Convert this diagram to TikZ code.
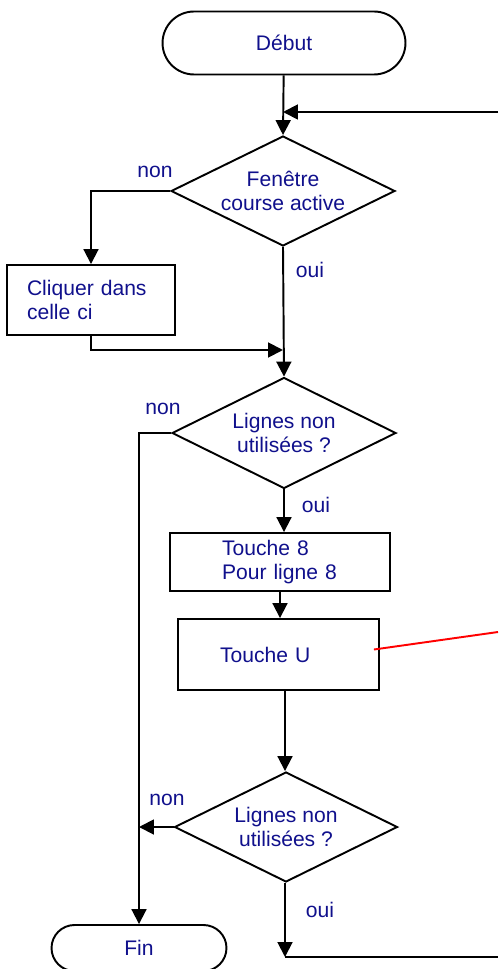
\documentclass[tikz,border=0pt]{standalone}
\usepackage{fontspec}
\setmainfont{Liberation Sans}
\usetikzlibrary{arrows.meta,shapes.geometric,shapes.misc}
\definecolor{txtblue}{RGB}{16,16,140}
\begin{document}
\begin{tikzpicture}[x=0.02cm,y=-0.02cm,
	every node/.style={font=\fontsize{12}{13.6}\selectfont,text=txtblue,inner sep=0pt},
	terminal/.style={draw,rounded rectangle,line width=1.1pt},
	decision/.style={draw,diamond,aspect=2,line width=1.1pt},
	process/.style={draw,rectangle,line width=1.1pt,align=left},
	arrow/.style={line width=1.1pt,-{Triangle[length=8.5pt,width=8.5pt]}},
	line/.style={line width=1.1pt}]
		\useasboundingbox (0,0) rectangle (498,969);
		% blocs
		\node[terminal,minimum width=4.86cm,minimum height=1.26cm] (debut) at (284,43) {D\'ebut};
		\node[decision,minimum width=4.48cm,minimum height=2.2cm,align=center] (fen) at (283,191) {Fen\^etre\\course active};
		\node[process,minimum width=3.36cm,minimum height=1.4cm,inner xsep=0.4cm,text width=2.56cm] (clic) at (91,300) {Cliquer dans\\celle ci};
		\node[decision,minimum width=4.48cm,minimum height=2.22cm,align=center] (lig1) at (284,433) {Lignes non\\utilis\'ees ?};
		\node[process,minimum width=4.4cm,minimum height=1.16cm,inner xsep=1.04cm,text width=2.32cm] (t8) at (280,562) {Touche 8\\Pour ligne 8};
		\node[process,minimum width=4.02cm,minimum height=1.42cm,inner xsep=0.84cm,text width=2.34cm] (tu) at (278.5,654.5) {Touche U};
		\node[decision,minimum width=4.46cm,minimum height=2.2cm,align=center] (lig2) at (286,827) {Lignes non\\utilis\'ees ?};
		\node[terminal,minimum width=3.5cm,minimum height=0.92cm] (fin) at (139,948) {Fin};
		% etiquettes
		\node (non1) at (155,172) {non};
		\node (oui1) at (310,270) {oui};
		\node (non2) at (163,409) {non};
		\node (oui2) at (316,505) {oui};
		\node (non3) at (167,800) {non};
		\node (oui3) at (320,910) {oui};
		% points libres
		\coordinate (retour) at (498,112);
		\coordinate (jonc1) at (283,112);
		\coordinate (jonc2) at (283,350);
		\coordinate (sortie) at (285,957);
		\coordinate (sortiefin) at (498,957);
		\coordinate (rouge) at (498,632);
		% liaisons
		\draw[arrow] (debut) -- (fen.north);
		\draw[arrow] (retour) -- (jonc1);
		\draw[arrow] (fen.west) -| (clic.north);
		\draw[arrow] (clic.south) |- (jonc2);
		\draw[arrow] (fen.south) -- (lig1.north);
		\draw[arrow] (lig1.west) -| (fin.north);
		\draw[arrow] (lig1.south) -- (lig1.south |- t8.north);
		\draw[arrow] (t8.south) -- (t8.south |- tu.north);
		\draw[arrow] (sortie |- tu.south) -- (sortie |- lig2.north);
		\draw[arrow] (lig2.west) -- (lig2.west -| fin.north);
		\draw[arrow] (sortie |- lig2.south) -- (sortie);
		\draw[line] (sortie) -- (sortiefin);
		\draw[red,line width=1.1pt] ([shift={(-0.12cm,0.1cm)}]tu.east) -- (rouge);
\end{tikzpicture}
\end{document}
